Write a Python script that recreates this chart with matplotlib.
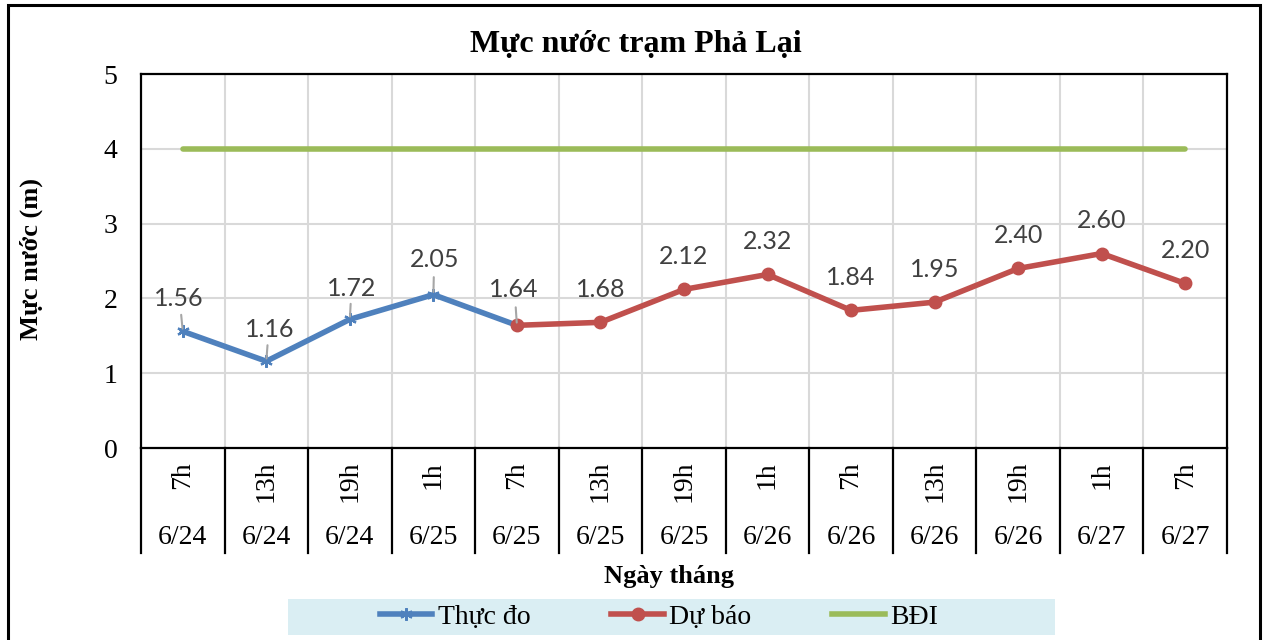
import matplotlib
matplotlib.use('Agg')
import matplotlib.pyplot as plt
from matplotlib.patches import Rectangle
from matplotlib.lines import Line2D

hours = ["7h", "13h", "19h", "1h", "7h", "13h", "19h", "1h", "7h", "13h", "19h", "1h", "7h"]
dates = ["6/24", "6/24", "6/24", "6/25", "6/25", "6/25", "6/25", "6/26", "6/26", "6/26", "6/26", "6/27", "6/27"]
thuc_do = [1.56, 1.16, 1.72, 2.05, 1.64]
du_bao = [1.64, 1.68, 2.12, 2.32, 1.84, 1.95, 2.40, 2.60, 2.20]
bdi = [4] * 13

BLUE = "#4F81BD"
RED = "#C0504D"
GREEN = "#9BBB59"
SERIF = "Liberation Serif"
LBL = "Lato"

W, H = 1263, 640
fig = plt.figure(figsize=(W / 100, H / 100), dpi=100)

def fx(px):
    return px / W

def fy(py):
    return 1 - py / H

# outer frame
fig.patches.append(Rectangle((fx(8), -0.02), fx(1260) - fx(8), fy(5) + 0.02,
                             transform=fig.transFigure, fill=False,
                             edgecolor="black", linewidth=2.2))

x0, x1, y0, y1 = 141, 1227, 74, 448
ax = fig.add_axes([fx(x0), fy(y1), fx(x1) - fx(x0), (y1 - y0) / H])
n = len(hours)
ax.set_xlim(-0.5, n - 0.5)
ax.set_ylim(0, 5)

# grid
for k in range(1, n):
    ax.axvline(k - 0.5, color="#d9d9d9", lw=1.5, zorder=0)
for v in range(1, 5):
    ax.axhline(v, color="#d9d9d9", lw=1.5, zorder=0)

for s in ax.spines.values():
    s.set_linewidth(1.6)
    s.set_color("black")

ax.set_xticks([])
ax.set_yticks(range(6))
ax.set_yticklabels([str(v) for v in range(6)], fontfamily=SERIF, fontsize=20)
ax.tick_params(axis="y", length=0, pad=17)

xs = list(range(n))
ax.plot(xs, bdi, color=GREEN, lw=4, solid_capstyle="round", zorder=2)
ax.plot(xs[:len(thuc_do)], thuc_do, color=BLUE, lw=4, marker=(6, 2, 0),
        markersize=9, markeredgewidth=1.6, markeredgecolor=BLUE, zorder=3)
start = len(thuc_do) - 1
ax.plot(xs[start:start + len(du_bao)], du_bao, color=RED, lw=4, marker="o",
        markersize=9, zorder=4)

# data labels
pts = {}
for i, v in enumerate(thuc_do):
    pts[i] = v
for j, v in enumerate(du_bao):
    pts[start + j] = v
offsets = {0: (-4, 33), 1: (3, 32), 2: (2, 31), 3: (1, 35), 4: (-3, 36)}
for i, v in pts.items():
    dx, dy = offsets.get(i, (0, 33))
    ax.annotate(f"{v:.2f}", xy=(i, v), xytext=(dx * 0.72, dy * 0.72),
                textcoords="offset points", ha="center", va="center",
                fontfamily=LBL, fontsize=18, color="#404040", zorder=6)
    if i in offsets:
        ax.annotate("", xy=(i, v), xytext=(dx * 0.72 * 0.4, dy * 0.72 * 0.5),
                    textcoords="offset points",
                    arrowprops=dict(arrowstyle="-", color="#a6a6a6", lw=1.5,
                                    shrinkA=0, shrinkB=2), zorder=5)

# category axis (two levels)
tr = ax.get_xaxis_transform()
depth = (553 - y1) / (y1 - y0)
for k in range(n + 1):
    ax.plot([k - 0.5, k - 0.5], [0, -depth], transform=tr, color="black",
            lw=1.6, clip_on=False)
for i in range(n):
    ax.text(i, -(461 - y1) / (y1 - y0), hours[i], transform=tr, rotation=90,
            ha="center", va="top", fontfamily=SERIF, fontsize=20)
    ax.text(i, -(538 - y1) / (y1 - y0), dates[i], transform=tr,
            ha="center", va="center", fontfamily=SERIF, fontsize=20)

# titles
fig.text(fx(636), fy(45), "Mực nước trạm Phả Lại", ha="center", va="center",
         fontfamily=SERIF, fontsize=23, fontweight="bold")
fig.text(fx(31), fy(259), "Mực nước (m)", ha="center", va="center", rotation=90,
         fontfamily=SERIF, fontsize=19, fontweight="bold")
fig.text(fx(669), fy(576), "Ngày tháng", ha="center", va="center",
         fontfamily=SERIF, fontsize=19, fontweight="bold")

# legend
fig.patches.append(Rectangle((fx(288), fy(635)), fx(1055) - fx(288), fy(599) - fy(635),
                             transform=fig.transFigure, facecolor="#DAEEF3",
                             edgecolor="none"))
handles = [
    Line2D([], [], color=BLUE, lw=4, marker=(6, 2, 0), markersize=9,
           markeredgewidth=1.6, markeredgecolor=BLUE),
    Line2D([], [], color=RED, lw=4, marker="o", markersize=9),
    Line2D([], [], color=GREEN, lw=4),
]
leg = fig.legend(handles, ["Thực đo", "Dự báo", "BĐI"], loc="center",
                 bbox_to_anchor=(fx(659), fy(617)), ncol=3, frameon=False,
                 prop={"family": SERIF, "size": 20}, handlelength=1.9,
                 handletextpad=0.2, columnspacing=2.9)

fig.savefig("out.png", dpi=100)
